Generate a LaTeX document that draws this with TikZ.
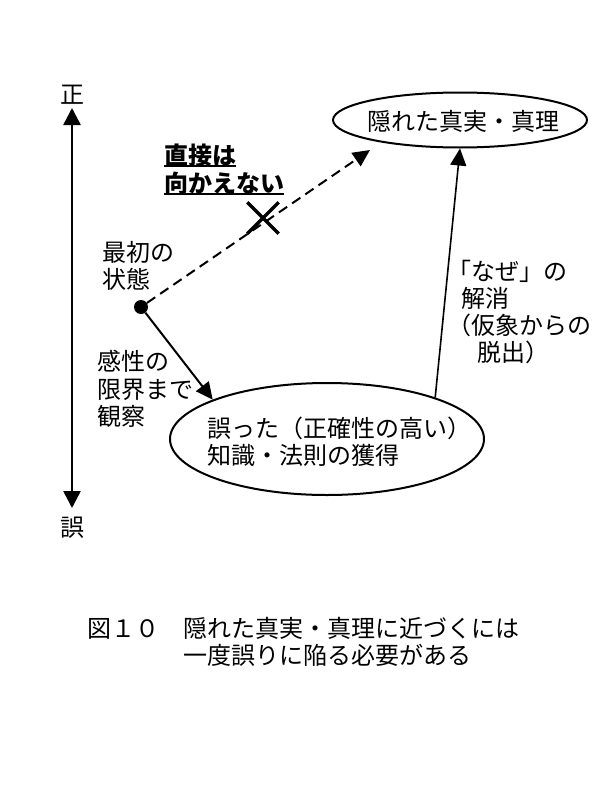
\documentclass[tikz,border=0pt]{standalone}
\usepackage{fontspec}
\newfontfamily\jp{Noto Sans CJK JP}
\usetikzlibrary{arrows.meta,shapes.geometric}
\begin{document}
\begin{tikzpicture}[x=1pt,y=-1pt,
  txt/.style={font=\jp\fontsize{24}{27.5}\selectfont, inner sep=0pt, align=left},
  ell/.style={draw, ellipse, line width=2pt, inner sep=0pt},
  arr/.style={line width=2pt, -{Triangle[length=17pt,width=16pt]}},
  thinarr/.style={line width=1.6pt, -{Triangle[length=17pt,width=16pt]}},
  dasharr/.style={line width=2pt, dash pattern=on 10pt off 6pt, -{Triangle[length=17pt,width=16pt]}},
  axisarr/.style={line width=2.6pt, {Triangle[length=17pt,width=17pt]}-{Triangle[length=17pt,width=17pt]}},
  ul/.style={line width=2pt}
]
\useasboundingbox (0,0) rectangle (600,800);

% axis
\node[txt] (zheng) at (72,95) {正};
\node[txt] (wu) at (72,528) {誤};
\coordinate (axtop) at (72,108);
\coordinate (axbot) at (72,508);
\draw[axisarr] (axtop) -- (axbot);

% ellipses
\node[ell, minimum width=254pt, minimum height=55pt] (top) at (460,120) {};
\node[txt] (toptxt) at (463,121) {隠れた真実・真理};
\node[ell, minimum width=314pt, minimum height=112pt] (bot) at (327,439) {};
\node[txt, anchor=west] (bottxt) at (207,441.5) {誤った（正確性の高い）\\知識・法則の獲得};

% start point
\node[circle, fill=black, minimum size=14pt, inner sep=0pt] (dot) at (141,307) {};
\coordinate (dashtip) at (370,150);
\draw[dasharr] (dot) -- (dashtip);
\draw[arr] (dot) -- (bot.161);
\draw[thinarr] (bot.21) -- (top.south);

% cross
\node[inner sep=0pt, minimum size=31pt] (cross) at (263,218) {};
\draw[line width=3.5pt] (cross.north west) -- (cross.south east)
                        (cross.north east) -- (cross.south west);

% labels
\node[txt, font=\jp\bfseries\fontsize{24}{27.5}\selectfont, anchor=west] (l1) at (164,155) {直接は};
\node[txt, font=\jp\bfseries\fontsize{24}{27.5}\selectfont, anchor=west] (l2) at (164,183) {向かえない};
\draw[ul] ([yshift=-2pt]l1.base west) -- ([yshift=-2pt]l1.base east);
\draw[ul] ([yshift=-2pt]l2.base west) -- ([yshift=-2pt]l2.base east);

\node[txt, anchor=west] (start) at (102,266) {最初の\\状態};
\node[txt, anchor=west] (sense) at (97,389) {感性の\\限界まで\\観察};
\node[txt, anchor=west, font=\jp\fontsize{24}{26.7}\selectfont] (why) at (447,312) {「なぜ」の\\\hspace*{14pt}解消\\（仮象からの\\\hspace*{30pt}脱出）};

% caption
\node[txt, anchor=west, font=\jp\fontsize{24}{27}\selectfont] (cap) at (87,642) {図１０　隠れた真実・真理に近づくには\\　　　　一度誤りに陥る必要がある};
\end{tikzpicture}
\end{document}
